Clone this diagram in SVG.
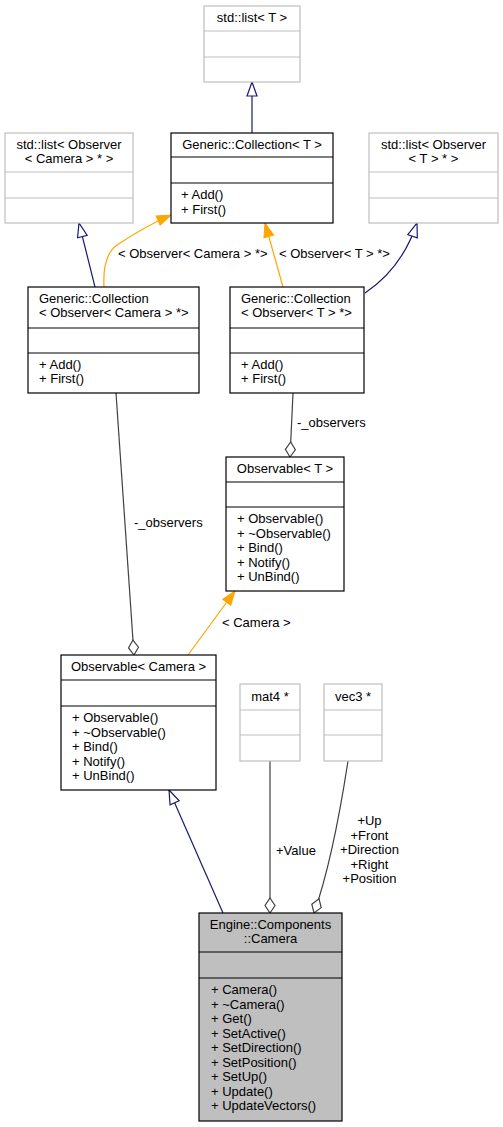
<svg xmlns="http://www.w3.org/2000/svg" width="503" height="1127" viewBox="0 0 503 1127">
  <style>
    text { font-family: "Liberation Sans", Arial, sans-serif; font-size: 13px; fill: #000; }
    .c { text-anchor: middle; }
    .box { fill: #fff; stroke: #000; stroke-width: 1.2; }
    .ext { fill: #fff; stroke: #bfbfbf; stroke-width: 1.2; }
    .cur { fill: #bfbfbf; stroke: #000; stroke-width: 1.2; }
    .div { stroke: #000; stroke-width: 1.2; }
    .divx { stroke: #bfbfbf; stroke-width: 1.2; }
    .inh { fill: none; stroke: #191970; stroke-width: 1.2; }
    .tpl { fill: none; stroke: #ffa500; stroke-width: 1.2; }
    .agg { fill: none; stroke: #404040; stroke-width: 1.2; }
  </style>
  <defs>
    <marker id="inherit" markerUnits="userSpaceOnUse" markerWidth="16" markerHeight="12" viewBox="-1 -6 16 12" refX="14" refY="0" orient="auto">
      <path d="M0,-5 L14,0 L0,5 Z" fill="#fff" stroke="#191970" stroke-width="1.2"/>
    </marker>
    <marker id="templ" markerUnits="userSpaceOnUse" markerWidth="16" markerHeight="12" viewBox="-1 -6 16 12" refX="14" refY="0" orient="auto">
      <path d="M0,-5 L14,0 L0,5 Z" fill="#ffa500" stroke="#ffa500" stroke-width="1"/>
    </marker>
    <marker id="diamond" markerUnits="userSpaceOnUse" markerWidth="18" markerHeight="12" viewBox="-1 -6 18 12" refX="15" refY="0" orient="auto">
      <path d="M0,0 L7.5,-5 L15,0 L7.5,5 Z" fill="#fff" stroke="#404040" stroke-width="1.2"/>
    </marker>
  </defs>

  <!-- connectors -->
  <g id="edges">
    <path class="inh" d="M252,133 L252,82" marker-end="url(#inherit)"/>
    <path class="inh" d="M95,287 L79,223" marker-end="url(#inherit)"/>
    <path class="tpl" d="M104,287 C103,268 107,252 117,245 C132,235 150,224 171,215" marker-end="url(#templ)"/>
    <path class="tpl" d="M283,287 L265,223" marker-end="url(#templ)"/>
    <path class="inh" d="M365,293 C386,279 406,256 417,223" marker-end="url(#inherit)"/>
    <path class="agg" d="M293,393 L290,457" marker-end="url(#diamond)"/>
    <path class="agg" d="M116,393 L134,655" marker-end="url(#diamond)"/>
    <path class="tpl" d="M188,655 L235,591" marker-end="url(#templ)"/>
    <path class="inh" d="M223,913 L169,790" marker-end="url(#inherit)"/>
    <path class="agg" d="M270,761 L270,913" marker-end="url(#diamond)"/>
    <path class="agg" d="M348,761 C342,800 330,868 314,913" marker-end="url(#diamond)"/>

    <text x="118" y="258">&lt; Observer&lt; Camera &gt; *&gt;</text>
    <text x="279" y="258">&lt; Observer&lt; T &gt; *&gt;</text>
    <text x="297" y="427">-_observers</text>
    <text x="134" y="527">-_observers</text>
    <text x="222" y="627">&lt; Camera &gt;</text>
    <text x="276" y="855">+Value</text>
    <text class="c" x="369.5" y="825">+Up</text>
    <text class="c" x="369.5" y="839.5">+Front</text>
    <text class="c" x="369.5" y="854">+Direction</text>
    <text class="c" x="369.5" y="868.5">+Right</text>
    <text class="c" x="369.5" y="883">+Position</text>
  </g>

  <g id="std_list_T">
    <rect class="ext" x="204" y="6" width="96" height="76"/>
    <line class="divx" x1="204" y1="31" x2="300" y2="31"/>
    <line class="divx" x1="204" y1="57" x2="300" y2="57"/>
    <text class="c" x="252" y="22">std::list&lt; T &gt;</text>
  </g>

  <g id="collection_T">
    <rect class="box" x="171" y="133" width="162" height="90"/>
    <line class="div" x1="171" y1="157" x2="333" y2="157"/>
    <line class="div" x1="171" y1="183" x2="333" y2="183"/>
    <text class="c" x="252" y="149">Generic::Collection&lt; T &gt;</text>
    <text x="181" y="199">+ Add()</text>
    <text x="181" y="213.5">+ First()</text>
  </g>

  <g id="std_list_observer_camera">
    <rect class="ext" x="5" y="133" width="128" height="90"/>
    <line class="divx" x1="5" y1="172" x2="133" y2="172"/>
    <line class="divx" x1="5" y1="198" x2="133" y2="198"/>
    <text class="c" x="69" y="149">std::list&lt; Observer</text>
    <text class="c" x="69" y="163">&lt; Camera &gt; * &gt;</text>
  </g>

  <g id="std_list_observer_T">
    <rect class="ext" x="369" y="133" width="129" height="90"/>
    <line class="divx" x1="369" y1="172" x2="498" y2="172"/>
    <line class="divx" x1="369" y1="198" x2="498" y2="198"/>
    <text class="c" x="433.5" y="149">std::list&lt; Observer</text>
    <text class="c" x="433.5" y="163">&lt; T &gt; * &gt;</text>
  </g>

  <g id="collection_observer_camera">
    <rect class="box" x="28" y="287" width="171" height="106"/>
    <line class="div" x1="28" y1="328" x2="199" y2="328"/>
    <line class="div" x1="28" y1="353" x2="199" y2="353"/>
    <text x="39" y="303">Generic::Collection</text>
    <text x="39" y="317">&lt; Observer&lt; Camera &gt; *&gt;</text>
    <text x="39" y="368.5">+ Add()</text>
    <text x="39" y="383">+ First()</text>
  </g>

  <g id="collection_observer_T">
    <rect class="box" x="230" y="287" width="134" height="106"/>
    <line class="div" x1="230" y1="328" x2="364" y2="328"/>
    <line class="div" x1="230" y1="353" x2="364" y2="353"/>
    <text x="241" y="303">Generic::Collection</text>
    <text x="241" y="317">&lt; Observer&lt; T &gt; *&gt;</text>
    <text x="241" y="368.5">+ Add()</text>
    <text x="241" y="383">+ First()</text>
  </g>

  <g id="observable_T">
    <rect class="box" x="226" y="457" width="118" height="134"/>
    <line class="div" x1="226" y1="482" x2="344" y2="482"/>
    <line class="div" x1="226" y1="507" x2="344" y2="507"/>
    <text class="c" x="285" y="473">Observable&lt; T &gt;</text>
    <text x="237" y="523">+ Observable()</text>
    <text x="237" y="537.5">+ ~Observable()</text>
    <text x="237" y="552">+ Bind()</text>
    <text x="237" y="566.5">+ Notify()</text>
    <text x="237" y="581">+ UnBind()</text>
  </g>

  <g id="observable_camera">
    <rect class="box" x="61" y="655" width="155" height="135"/>
    <line class="div" x1="61" y1="680" x2="216" y2="680"/>
    <line class="div" x1="61" y1="706" x2="216" y2="706"/>
    <text class="c" x="138.5" y="671">Observable&lt; Camera &gt;</text>
    <text x="72" y="722">+ Observable()</text>
    <text x="72" y="736.5">+ ~Observable()</text>
    <text x="72" y="751">+ Bind()</text>
    <text x="72" y="765.5">+ Notify()</text>
    <text x="72" y="780">+ UnBind()</text>
  </g>

  <g id="mat4_ptr">
    <rect class="ext" x="240" y="684" width="60" height="77"/>
    <line class="divx" x1="240" y1="710" x2="300" y2="710"/>
    <line class="divx" x1="240" y1="735" x2="300" y2="735"/>
    <text class="c" x="270" y="701">mat4 *</text>
  </g>

  <g id="vec3_ptr">
    <rect class="ext" x="324" y="684" width="58" height="77"/>
    <line class="divx" x1="324" y1="710" x2="382" y2="710"/>
    <line class="divx" x1="324" y1="735" x2="382" y2="735"/>
    <text class="c" x="353" y="701">vec3 *</text>
  </g>

  <g id="camera">
    <rect class="cur" x="199" y="913" width="143" height="208"/>
    <line class="div" x1="199" y1="952" x2="342" y2="952"/>
    <line class="div" x1="199" y1="978" x2="342" y2="978"/>
    <text class="c" x="270.5" y="929">Engine::Components</text>
    <text class="c" x="270.5" y="943">::Camera</text>
    <text x="211" y="994">+ Camera()</text>
    <text x="211" y="1008.5">+ ~Camera()</text>
    <text x="211" y="1023">+ Get()</text>
    <text x="211" y="1037.5">+ SetActive()</text>
    <text x="211" y="1052">+ SetDirection()</text>
    <text x="211" y="1066.5">+ SetPosition()</text>
    <text x="211" y="1081">+ SetUp()</text>
    <text x="211" y="1095.5">+ Update()</text>
    <text x="211" y="1110">+ UpdateVectors()</text>
  </g>
</svg>
